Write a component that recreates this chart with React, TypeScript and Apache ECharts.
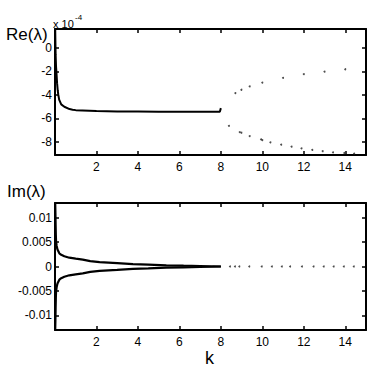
import React, { useEffect, useRef } from "react";
import * as echarts from "echarts";

// Top panel: Re(lambda) in units of 1e-4
const reCurveK = [0.01, 0.02, 0.03, 0.05, 0.08, 0.1, 0.13, 0.16, 0.2, 0.3, 0.45, 0.7, 0.85, 1.0, 1.66, 2, 3, 4, 5, 6, 7, 7.95, 8.0];
const reCurveV = [1.6, 0.4, -0.6, -1.6, -2.4, -3.0, -3.6, -4.0, -4.4, -4.8, -5.0, -5.2, -5.25, -5.29, -5.34, -5.37, -5.4, -5.41, -5.42, -5.42, -5.42, -5.42, -5.12];
const reUpperK = [8.7, 8.99, 9.39, 10.0, 11.0, 12.0, 13.0, 14.0];
const reUpperV = [-3.84, -3.56, -3.28, -2.95, -2.55, -2.24, -2.02, -1.82];
const reLowerK = [8.39, 8.91, 8.99, 9.39, 9.94, 10.0, 10.39, 10.91, 11.41, 11.89, 12.41, 12.91, 13.41, 13.95, 14.43];
const reLowerV = [-6.62, -7.16, -7.21, -7.49, -7.77, -7.83, -8.02, -8.22, -8.39, -8.53, -8.67, -8.78, -8.87, -8.93, -8.98];

// Bottom panel: Im(lambda)
const imCurveK = [0.01, 0.02, 0.03, 0.04, 0.05, 0.08, 0.12, 0.21, 0.3, 0.45, 0.69, 1.0, 1.34, 1.7, 2.15, 3.0, 3.76, 4.5, 5.37, 6.2, 7.0, 7.6, 8.0];
const imUpperV = [0.013, 0.011, 0.0085, 0.0065, 0.0052, 0.0042, 0.0035, 0.0027, 0.0024, 0.0021, 0.0018, 0.0016, 0.0014, 0.0011, 0.0009, 0.0007, 0.0005, 0.0004, 0.00025, 0.00016, 0.0001, 0.00005, 0.0];
const imLowerV = [-0.013, -0.011, -0.0085, -0.0065, -0.0052, -0.0042, -0.0035, -0.0027, -0.0024, -0.0021, -0.0018, -0.0016, -0.0014, -0.0011, -0.0009, -0.0007, -0.0005, -0.0004, -0.00025, -0.00016, -0.0001, -0.00005, 0.0];
const imDotsK = [8.44, 8.68, 8.89, 9.37, 9.97, 10.46, 10.94, 11.34, 11.91, 12.47, 12.96, 13.44, 13.93, 14.41];
const imDotsV = [0, 0, 0, 0, 0, 0, 0, 0, 0, 0, 0, 0, 0, 0];

const xTicks = [2, 4, 6, 8, 10, 12, 14];
const reTicks = [-8, -6, -4, -2, 0];
const imTicks = [-0.01, -0.005, 0, 0.005, 0.01];

const zip = (a: number[], b: number[]) => a.map((v, i) => [v, b[i]]);

export default function App() {
  const ref = useRef<HTMLDivElement>(null);
  useEffect(() => {
    if (!ref.current) return;
    const chart = echarts.init(ref.current, null, { renderer: "svg" });
    const font = "Liberation Sans, Arial, sans-serif";
    const axisLine = { show: true, onZero: false, lineStyle: { color: "#000", width: 2 } };
    const tick = (vals: number[], show = true) => ({
      show,
      inside: true,
      length: 4,
      customValues: vals,
      lineStyle: { color: "#000", width: 1.5 },
    });
    const mkX = (gi: number) => [
      {
        type: "value",
        gridIndex: gi,
        min: 0,
        max: 15,
        position: "bottom",
        axisLine,
        axisTick: tick(xTicks),
        axisLabel: { customValues: xTicks, color: "#000", fontSize: 12, fontFamily: font, margin: 6 },
        splitLine: { show: false },
      },
      {
        type: "value",
        gridIndex: gi,
        min: 0,
        max: 15,
        position: "top",
        axisLine,
        axisTick: tick(xTicks),
        axisLabel: { show: false },
        splitLine: { show: false },
      },
    ];
    const mkY = (gi: number, min: number, max: number, ticks: number[], fmt: (v: number) => string) => [
      {
        type: "value",
        gridIndex: gi,
        min,
        max,
        position: "left",
        axisLine,
        axisTick: tick(ticks),
        axisLabel: {
          customValues: ticks,
          color: "#000",
          fontSize: 12,
          fontFamily: font,
          margin: 3,
          formatter: fmt,
        },
        splitLine: { show: false },
      },
      {
        type: "value",
        gridIndex: gi,
        min,
        max,
        position: "right",
        axisLine,
        axisTick: tick(ticks),
        axisLabel: { show: false },
        splitLine: { show: false },
      },
    ];
    const imFmt = (v: number) => {
      const r = Math.round(v * 1000) / 1000;
      if (r === 0) return "0";
      return String(r);
    };
    const dot = { color: "#222" };
    chart.setOption({
      animation: false,
      grid: [
        { left: 55, top: 29, width: 311, height: 126 },
        { left: 55, top: 203, width: 311, height: 127 },
      ],
      xAxis: [...mkX(0), ...mkX(1)],
      yAxis: [
        ...mkY(0, -9.1, 1.6, reTicks, (v: number) => String(Math.round(v))),
        ...mkY(1, -0.013, 0.013, imTicks, imFmt),
      ],
      series: [
        {
          type: "line",
          xAxisIndex: 0,
          yAxisIndex: 0,
          data: zip(reCurveK, reCurveV),
          showSymbol: false,
          lineStyle: { color: "#000", width: 2 },
        },
        {
          type: "scatter",
          xAxisIndex: 0,
          yAxisIndex: 0,
          data: zip(reUpperK, reUpperV),
          symbolSize: 2,
          itemStyle: dot,
        },
        {
          type: "scatter",
          xAxisIndex: 0,
          yAxisIndex: 0,
          data: zip(reLowerK, reLowerV),
          symbolSize: 2,
          itemStyle: dot,
        },
        {
          type: "line",
          xAxisIndex: 2,
          yAxisIndex: 2,
          data: zip(imCurveK, imUpperV),
          showSymbol: false,
          lineStyle: { color: "#000", width: 2.2 },
        },
        {
          type: "line",
          xAxisIndex: 2,
          yAxisIndex: 2,
          data: zip(imCurveK, imLowerV),
          showSymbol: false,
          lineStyle: { color: "#000", width: 2.2 },
        },
        {
          type: "scatter",
          xAxisIndex: 2,
          yAxisIndex: 2,
          data: zip(imDotsK, imDotsV),
          symbolSize: 2,
          itemStyle: dot,
        },
      ],
      graphic: [
        { type: "text", left: 6, top: 26, style: { text: "Re(λ)", font: `17px ${font}`, fill: "#000" } },
        { type: "text", left: 53, top: 18, style: { text: "x 10", font: `11px ${font}`, fill: "#000" } },
        { type: "text", left: 75, top: 13, style: { text: "-4", font: `8px ${font}`, fill: "#000" } },
        { type: "text", left: 7, top: 183, style: { text: "Im(λ)", font: `17px ${font}`, fill: "#000" } },
        { type: "text", left: 205, top: 349, style: { text: "k", font: `18px ${font}`, fill: "#000" } },
      ],
    });
    return () => chart.dispose();
  }, []);
  return (
    <div
      ref={ref}
      style={{ position: "fixed", left: 0, top: 0, width: 374, height: 372, background: "#fff" }}
    />
  );
}
